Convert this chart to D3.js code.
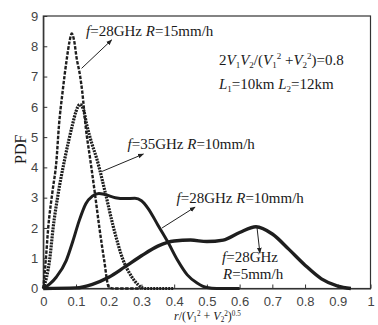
<!DOCTYPE html>
<html><head><meta charset="utf-8">
<script src="https://cdn.jsdelivr.net/npm/d3@7"></script>
<style>body{margin:0;background:#fff}svg{display:block}</style>
</head><body>
<svg id="c" width="378" height="325"></svg>
<script>
// ---- data ----
const xTicks = [0,0.1,0.2,0.3,0.4,0.5,0.6,0.7,0.8,0.9,1];
const xTickLabels = ["0","0.1","0.2","0.3","0.4","0.5","0.6","0.7","0.8","0.9","1"];
const yTicks = [0,1,2,3,4,5,6,7,8,9];
// f=28GHz R=15mm/h (dashed)
const seriesA_x = [0,0.008,0.015,0.028,0.04,0.048,0.059,0.072,0.08,0.087,0.094,0.102,0.112,0.119,0.13,0.143,0.157,0.171,0.186,0.2,0.215,0.3];
const seriesA_y = [0,1.0,2.0,3.2,4.2,5.4,6.5,7.6,8.15,8.42,8.2,7.6,7.05,6.5,5.3,4.3,3.2,2.04,0.94,0.05,0,0];
// f=35GHz R=10mm/h (dotted)
const seriesB_x = [0,0.02,0.03,0.045,0.065,0.078,0.089,0.1,0.112,0.123,0.133,0.148,0.163,0.19,0.214,0.244,0.27,0.29,0.31,0.4];
const seriesB_y = [0,1.0,2.0,3.1,4.25,4.9,5.4,5.85,6.08,5.9,5.4,4.8,4.3,3.14,2.04,0.94,0.39,0.12,0,0];
// f=28GHz R=10mm/h (solid)
const seriesC_x = [0,0.02,0.04,0.07,0.09,0.11,0.13,0.15,0.17,0.19,0.22,0.25,0.28,0.3,0.32,0.35,0.38,0.41,0.44,0.47,0.5,0.53,0.6];
const seriesC_y = [0,0.15,0.38,0.92,1.55,2.25,2.8,3.05,3.14,3.1,3.0,2.97,2.98,2.9,2.65,2.1,1.55,0.94,0.45,0.18,0.03,0,0];
// f=28GHz R=5mm/h (solid, heavy)
const seriesD_x = [0,0.1,0.15,0.2,0.25,0.3,0.35,0.4,0.45,0.5,0.55,0.6,0.65,0.7,0.75,0.8,0.85,0.9,0.94];
const seriesD_y = [0,0.02,0.14,0.37,0.72,1.08,1.4,1.57,1.6,1.55,1.6,1.85,2.04,1.8,1.3,0.77,0.32,0.08,0];

const W = 378, H = 325;
const m = {l:43.3, r:7.5, t:16, b:36.5};
const svg = d3.select("#c");
const x = d3.scaleLinear().domain([0,1]).range([m.l, W-m.r]);
const y = d3.scaleLinear().domain([0,9]).range([H-m.b, m.t]);

svg.append("defs").append("marker")
  .attr("id","arr").attr("viewBox","0 0 10 10").attr("refX",9).attr("refY",5)
  .attr("markerWidth",6).attr("markerHeight",6).attr("orient","auto")
  .append("path").attr("d","M0,1 L10,5 L0,9 Z").attr("fill","#222");

// frame
svg.append("rect").attr("x",x(0)).attr("y",y(9)).attr("width",x(1)-x(0)).attr("height",y(0)-y(9))
  .attr("fill","none").attr("stroke","#333").attr("stroke-width",1.2);

// axes (ticks inward)
const xa = svg.append("g").attr("transform",`translate(0,${y(0)})`)
  .call(d3.axisBottom(x).tickValues(xTicks).tickFormat((d,i)=>xTickLabels[i]).tickSizeInner(-4).tickSizeOuter(0).tickPadding(8));
const ya = svg.append("g").attr("transform",`translate(${x(0)},0)`)
  .call(d3.axisLeft(y).tickValues(yTicks).tickSizeInner(-4).tickSizeOuter(0).tickPadding(5));
[xa,ya].forEach(g=>{
  g.select(".domain").attr("stroke","#333").attr("stroke-width",1.2);
  g.selectAll(".tick line").attr("stroke","#333");
  g.selectAll("text").attr("font-family","Liberation Sans, Arial, sans-serif").attr("font-size",13).attr("fill","#444");
});

// curves
const line = d3.line().x(d=>x(d[0])).y(d=>y(d[1])).curve(d3.curveMonotoneX);
function draw(xs, ys, dash, w){
  svg.append("path").datum(xs.map((v,i)=>[v,ys[i]]))
    .attr("d",line).attr("fill","none").attr("stroke","#1e1e1e")
    .attr("stroke-width",w).attr("stroke-dasharray",dash).attr("stroke-linejoin","round");
}
draw(seriesD_x, seriesD_y, null, 3.4);
draw(seriesC_x, seriesC_y, null, 3);
draw(seriesB_x, seriesB_y, "2,1", 3.2);
draw(seriesA_x, seriesA_y, "3.5,1.5", 2.4);

// arrows (data coordinates)
const arrows = [
  [[0.117,7.27],[0.209,8.21]],
  [[0.178,3.86],[0.306,4.44]],
  [[0.363,2.0],[0.464,2.69]],
  [[0.653,2.03],[0.662,1.17]]
];
arrows.forEach(a=>{
  svg.append("line").attr("x1",x(a[0][0])).attr("y1",y(a[0][1])).attr("x2",x(a[1][0])).attr("y2",y(a[1][1]))
    .attr("stroke","#222").attr("stroke-width",1).attr("marker-end","url(#arr)");
});

// labels: parts = [text, style("i" italic or ""), level("b" base, "sub", "sup")]
const serif = "Liberation Serif, Times New Roman, serif";
function label(px, py, parts, size, supOff, subOff){
  size = size||15;
  const levelOff = {b:0, sub:(subOff||3), sup:-(supOff||6)};
  const t = svg.append("text").attr("x",px).attr("y",py).attr("font-family",serif).attr("font-size",size).attr("fill","#1a1a1a");
  let cur = 0;
  parts.forEach(p=>{
    const lv = p[2]||"b";
    const target = levelOff[lv];
    const s = t.append("tspan").text(p[0]).attr("dy",target-cur);
    cur = target;
    if(p[1]==="i") s.attr("font-style","italic");
    if(lv!=="b") s.attr("font-size",size*0.6);
  });
  return t;
}
label(86,36,[["f","i"],["=28GHz "],["R","i"],["=15mm/h"]]);
label(127.5,149,[["f","i"],["=35GHz "],["R","i"],["=10mm/h"]]);
label(176.5,203,[["f","i"],["=28GHz "],["R","i"],["=10mm/h"]]);
label(222,262,[["f","i"],["=28GHz"]]);
label(223,279,[["R","i"],["=5mm/h"]]);
label(219,65,[["2"],["V","i"],["1","","sub"],["V","i"],["2","","sub"],["/("],["V","i"],["1","","sub"],["2","","sup"],[" +"],["V","i"],["2","","sub"],["2","","sup"],[")=0.8"]]);
label(219,89,[["L","i"],["1","","sub"],["=10km "],["L","i"],["2","","sub"],["=12km"]]);

// axis titles
svg.append("text").attr("transform",`translate(26,${(y(4.6))}) rotate(-90)`).attr("text-anchor","middle")
  .attr("font-family",serif).attr("font-size",16).attr("fill","#1a1a1a").text("PDF");
label(174,319.5,[["r","i"],["/("],["V","i"],["1","","sub"],["2","","sup"],[" + "],["V","i"],["2","","sub"],["2","","sup"],[")"],["0.5","","sup"]],12,4,2);
</script>
</body></html>
